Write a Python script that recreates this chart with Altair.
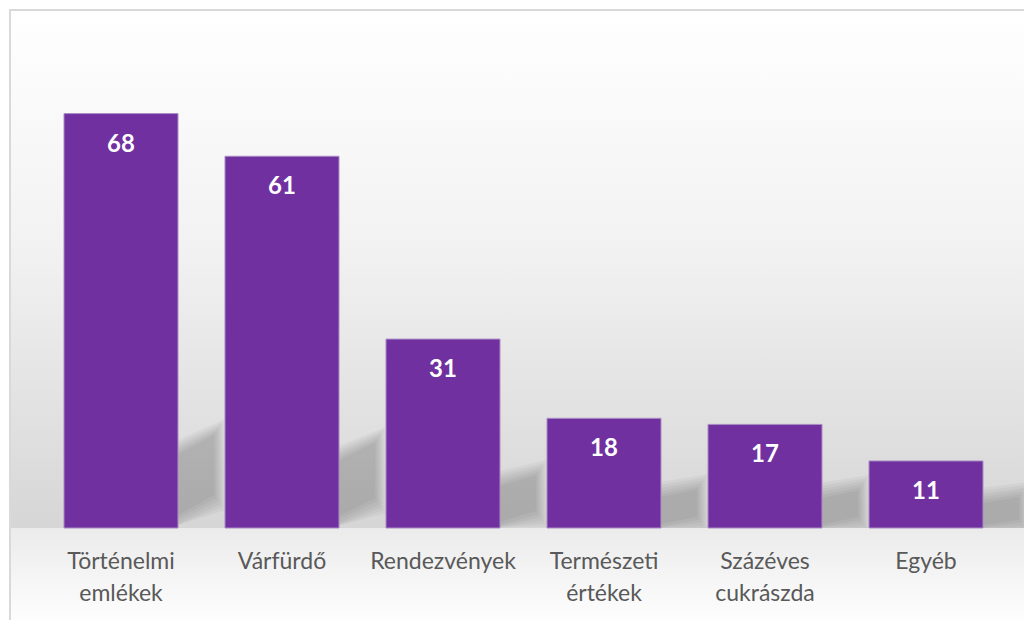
import altair as alt
import pandas as pd

categories = ["Történelmi\nemlékek", "Várfürdő", "Rendezvények",
              "Természeti\nértékek", "Százéves\ncukrászda", "Egyéb"]
values = [68, 61, 31, 18, 17, 11]

PLOT_W = 966
PLOT_H = 518
BAR_COLOR = "#7030A0"
N = len(values)

df = pd.DataFrame({"cat": categories, "val": values, "idx": list(range(N))})

# decorative soft shadows (several nested translucent bands), derived from bar values
rows = []
for i, v in enumerate(values):
    top0, bot0 = 0.13 * v + 2.5, 0.02 * v
    rise = 0.05 * v + 0.6
    for k, e in enumerate([0.0, 0.5, 1.0, 1.5, 2.0, 2.5]):
        rows.append({"g": f"{i}-{k}", "sx": i + 0.80, "top": top0 + e, "bot": max(0.0, bot0 - e)})
        rows.append({"g": f"{i}-{k}", "sx": i + 1.08 + e * 0.025, "top": top0 + rise + e,
                     "bot": max(0.0, bot0 + rise - e)})
sdf = pd.DataFrame(rows)

xscale = alt.Scale(domain=[0, N], range=[0, PLOT_W], nice=False, zero=False)
yscale = alt.Scale(domain=[0, 85], nice=False, zero=True)
one = alt.Data(values=[{"a": 1}])

bg_top = alt.Chart(one).mark_rect(
    fill=alt.Gradient(gradient="linear", x1=0, x2=0, y1=0, y2=1,
                      stops=[alt.GradientStop(offset=0, color="#ffffff"),
                             alt.GradientStop(offset=0.45, color="#f2f2f2"),
                             alt.GradientStop(offset=1, color="#d6d6d6")])
).encode(x=alt.value(-29.5), x2=alt.value(PLOT_W + 20), y=alt.value(0), y2=alt.value(PLOT_H))

bg_bot = alt.Chart(one).mark_rect(
    fill=alt.Gradient(gradient="linear", x1=0, x2=0, y1=0, y2=1,
                      stops=[alt.GradientStop(offset=0, color="#ebebeb"),
                             alt.GradientStop(offset=1, color="#ffffff")])
).encode(x=alt.value(-29.5), x2=alt.value(PLOT_W + 20), y=alt.value(PLOT_H), y2=alt.value(PLOT_H + 100))

frame = alt.Chart(one).mark_rect(fill=None, stroke="#d9d9d9", strokeWidth=2).encode(
    x=alt.value(-30.5), x2=alt.value(PLOT_W + 40), y=alt.value(0), y2=alt.value(PLOT_H + 120))

shadow = alt.Chart(sdf).mark_area(color="#000000", opacity=0.034, interpolate="linear").encode(
    x=alt.X("sx:Q", scale=xscale, axis=None),
    y=alt.Y("top:Q", scale=yscale, axis=None),
    y2="bot:Q",
    detail="g:N")

bars = alt.Chart(df).transform_calculate(
    x0="datum.idx + 0.146", x1="datum.idx + 0.854", zero="0"
).mark_rect(color=BAR_COLOR, stroke="#a98cc4", strokeWidth=1).encode(
    x=alt.X("x0:Q", scale=xscale, axis=None), x2="x1:Q",
    y=alt.Y("val:Q", scale=yscale, axis=None), y2="zero:Q")

labels = alt.Chart(df).transform_calculate(
    xc="datum.idx + 0.5"
).mark_text(color="white", fontWeight="bold", fontSize=24,
            font="Lato", dy=31, baseline="middle").encode(
    x=alt.X("xc:Q", scale=xscale, axis=None), y=alt.Y("val:Q", scale=yscale, axis=None),
    text="val:Q")

cat_labels = alt.Chart(df).transform_calculate(
    xc="datum.idx + 0.5"
).mark_text(color="#595959", fontSize=23, font="Lato", lineBreak="\n",
            lineHeight=32, baseline="middle", align="center").encode(
    x=alt.X("xc:Q", scale=xscale, axis=None), y=alt.value(PLOT_H + 34),
    text="cat:N")

chart = alt.layer(bg_top, bg_bot, frame, shadow, bars, labels, cat_labels).properties(
    width=PLOT_W, height=PLOT_H,
    padding={"left": 40.5, "top": 10, "right": 17.5, "bottom": 92},
    autosize=alt.AutoSizeParams(type="none")
).configure_view(stroke=None, clip=False).configure(background="white")

chart.save("out.html", embed_options={"renderer": "svg", "actions": False})
